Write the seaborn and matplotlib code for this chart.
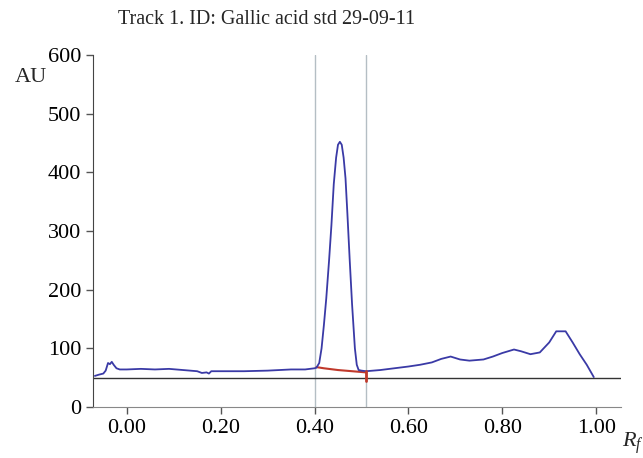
import matplotlib
matplotlib.use("Agg")
import matplotlib.pyplot as plt
import seaborn as sns
import pandas as pd

# Blue densitogram trace
rf = [-0.068, -0.060, -0.050, -0.045, -0.040, -0.036, -0.032, -0.028, -0.022, -0.015,
      0.00, 0.03, 0.06, 0.09, 0.12, 0.15, 0.16, 0.17, 0.175, 0.18, 0.20, 0.25, 0.30,
      0.35, 0.38, 0.40, 0.404, 0.410, 0.415, 0.420, 0.425, 0.431, 0.436, 0.441, 0.446,
      0.450, 0.454, 0.458, 0.462, 0.466, 0.470, 0.475, 0.480, 0.486, 0.490, 0.494,
      0.50, 0.51, 0.54, 0.57, 0.60, 0.625, 0.65, 0.67, 0.69, 0.71, 0.73, 0.76, 0.78,
      0.80, 0.825, 0.84, 0.86, 0.88, 0.90, 0.915, 0.935, 0.95, 0.965, 0.98, 0.995]
au = [53, 55, 57, 62, 75, 73, 77, 72, 66, 64,
      64, 65, 64, 65, 63, 61, 58, 59, 57, 61, 61, 61, 62,
      64, 64, 66, 67, 75, 100, 140, 185, 250, 310, 380, 425,
      447, 452, 447, 425, 390, 330, 250, 175, 100, 72, 63,
      62, 61, 63, 66, 69, 72, 76, 82, 86, 81, 79, 81, 86,
      92, 98, 95, 90, 93, 110, 129, 129, 110, 90, 72, 51]

# Red integration baseline under the peak
base_rf = [0.404, 0.42, 0.45, 0.48, 0.51]
base_au = [68, 66, 63, 61, 59]

# Peak window limits and detector baseline
window = [0.40, 0.51]
zero_level = 50

xticks = [0.0, 0.2, 0.4, 0.6, 0.8, 1.0]
yticks = [0, 100, 200, 300, 400, 500, 600]
title = "Track 1. ID: Gallic acid std 29-09-11"

sns.set_style("ticks")
plt.rcParams["font.family"] = ["Liberation Serif", "DejaVu Serif"]
plt.rcParams["mathtext.fontset"] = "custom"
plt.rcParams["mathtext.it"] = "Liberation Serif:italic"
plt.rcParams["mathtext.rm"] = "Liberation Serif"

fig = plt.figure(figsize=(6.43, 4.58), dpi=100)
ax = fig.add_axes([93/643, 51/458, (621-93)/643, (407-55)/458])

for w in window:
    ax.axvline(w, color="#b4bec4", lw=1.0, zorder=1)
ax.axhline(zero_level, color="#333333", lw=1.0, zorder=2)

df = pd.DataFrame({"Rf": rf, "AU": au})
sns.lineplot(data=df, x="Rf", y="AU", ax=ax, color="#3a3aa6", lw=1.3, zorder=4,
             sort=False, estimator=None)
dfb = pd.DataFrame({"Rf": base_rf, "AU": base_au})
sns.lineplot(data=dfb, x="Rf", y="AU", ax=ax, color="#c0392b", lw=1.5, zorder=3,
             sort=False, estimator=None)
ax.plot([window[1], window[1]], [62, 44], color="#c0392b", lw=2.0, zorder=5)

ax.set_xlim(-0.072, 1.053)
ax.set_ylim(0, 600)
ax.set_xticks(xticks)
ax.set_xticklabels([f"{t:.2f}" for t in xticks])
ax.set_yticks(yticks)
ax.set_xlabel("")
ax.set_ylabel("")
ax.tick_params(labelsize=16, length=5, width=1, colors="#555555", labelcolor="black")
sns.despine(ax=ax)
ax.spines["left"].set_color("#444444")
ax.spines["bottom"].set_color("#888888")

fig.text(118/643, 1 - 20/458, title, fontsize=14.5, va="center", ha="left")
fig.text(15/643, 1 - 77/458, "AU", fontsize=16, va="center", ha="left")
fig.text(622/643, 1 - 447/458, r"$R_f$", fontsize=16, va="baseline", ha="left")

fig.savefig("out.png", dpi=100)
